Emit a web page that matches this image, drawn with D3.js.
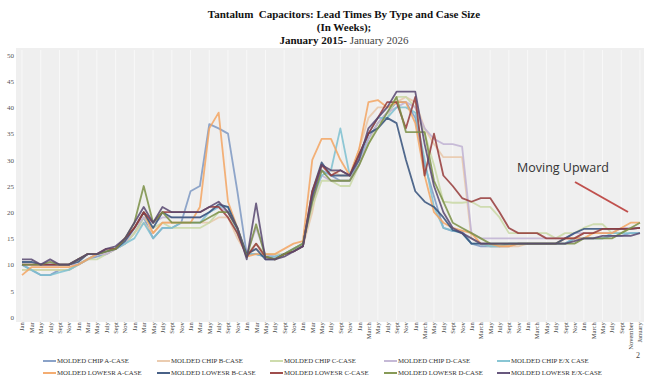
<!DOCTYPE html>
<html>
<head>
<meta charset="utf-8">
<script src="https://cdn.jsdelivr.net/npm/d3@7"></script>
<style>
  body { margin: 0; background: #fff; }
  svg { display: block; }
</style>
</head>
<body>
<svg id="chart" width="650" height="384"></svg>
<script>
// tick labels, two-monthly from Jan 2015 to Jan 2026
const xLabels = [
  'Jan','Mar','May','July','Sept','Nov',
  'Jan','Mar','May','July','Sept','Nov',
  'Jan','Mar','May','July','Sept','Nov',
  'Jan','Mar','May','July','Sept','Nov',
  'Jan','Mar','May','July','Sept','Nov',
  'Jan','Mar','May','July','Sept','Nov',
  'Jan','March','May','July','Sept','Nov',
  'Jan','March','May','July','Sept','Nov',
  'Jan','March','May','July','Sept','Nov',
  'Jan','March','May','July','Sept','Nov',
  'Jan','March','May','July','Sept','November',
  'January'
];
const yTicks = [0,5,10,15,20,25,30,35,40,45,50];

const seriesNames = [
  'MOLDED CHIP A-CASE','MOLDED CHIP B-CASE','MOLDED CHIP C-CASE','MOLDED CHIP D-CASE','MOLDED CHIP E/X CASE',
  'MOLDED LOWESR A-CASE','MOLDED LOWESR B-CASE','MOLDED LOWESR C-CASE','MOLDED LOWESR D-CASE','MOLDED LOWESR E/X-CASE'
];
const seriesColors = [
  '#7d98c2','#e9c7a8','#c9d8a4','#bfb2d2','#7cc0d0',
  '#f3a462','#34507a','#953a38','#7a8f45','#574670'
];

// lead times in weeks, one value every two months
const chipA = [10,9,8,8,9,9,10,11,11.5,12,13,14,
  16,19,15,17,17,18,24,25,36.8,36,35,24,
  12,12,11.5,11.5,12,13,13.5,22,28,27,26,26,30,34,37,39,41,41,38,29,23,17,16.4,16.4,
  14,13.5,13.5,13.5,13.5,14,14,14,14,14,14,15,15,15,15,15.5,15.5,16,16];
const chipB = [9,9,9,9,9,9,10,11,12,12,13,14,
  16,18,16,18,18,18,18,18,18,19,19,15,
  12,13,12,11.5,12,12.5,13.5,20,29,28,27,27,32,38,40,40,41,42,41,36,33,30.5,30.5,30.5,
  15,14,13.5,13.5,13.5,13.5,14,14,14,14,15,15,16,16,16,16,16,17,17];
const chipC = [9,9,9,9,9,9,10,11,11,12,13,14,
  16,19,17,18,17,17,17,17,18,20,20,16,
  12,14,12,12,12,13,14,21,26,26,25,25,29,33,37,38,42,42,40,35,29,22,21.8,21.8,
  22,21,21,19,16,16,16,16,16,15,16,16,17,17.7,17.7,16,16,17,17];
const chipD = [10,10,10,10,10,10,10,11,12,12,13,14,
  17,19,18,19,19,19,19,19,20,21,20,17,
  12,17,12,11.5,12,13,14,22,27,26,26,26,29,34,37,39,40,41,40,36,34,33,33,32.5,
  16,15,15,15,15,15,15,15,15,15,15,16,16,16,16,16,17,17,17];
const chipEX = [10,9,8,8,8.5,9,10,11,12,12.5,13,14,
  15,18,15,17,17,18,18,18,20,21,21,16,
  12,12,11.5,11.5,12,13,14,23,27,28,36,27,30,35,38,38,40,40,39,30,21,17,16.5,16,
  14,14,13.5,13.5,14,14,14,14,14,14,14,15,15,15,15,16,16,16,16];
const lowA = [8,9.5,9.5,9.5,9.5,9.5,10,11,12,12.5,13,15,
  17,20,16,18,18,18,18,21,36,39,22,17,
  11.5,12,12,12,13,14,14.5,30,34,34,30,27,32,41,41.4,40,41,41,37,27,20,18,17,16.5,
  16,14,14,13.5,13.5,14,14,14,14,14,15,15,15,16,16,16,17,18,18];
const lowB = [10.5,10.5,10,10,10,10,10.5,12,12,12.5,13,14.5,
  17,20,17,20,19,19,19,19,20,21.5,21,17,
  12,13,11,11,12,12.5,13.5,24,29.5,27,27,27,31,35,36,38,37,30,24,22,21,19,16.6,16,
  14,14,14,14,14,14,14,14,14,14,15,16,16.8,16.8,16.8,16.8,16.8,16.8,17];
const lowC = [10,10,10,10,10,10,11,12,12,13,13,15,
  17,20,18,20,20,20,20,20,21,21,19,16,
  11.5,14,11.5,11,12,12.5,13.5,24,29,27,28,27,31,35,38,41,41,36,42,27,35,27,25,22.7,
  22,22.7,22.7,20,17,16,16,16,15,15,15,15,16,16,16.8,16.8,16.8,16.8,17];
const lowD = [10,10,10,10.5,10,10,11,12,12,12.5,13,15,
  18,25,18,20,18,18,18,18,19,20,20,17,
  11.5,17.7,11.5,11,12,13,14,22,28,26,26,26,29,33,36,39,42,35.3,35.3,35.3,26,22,18,17,
  16,15,14,14,14,14,14,14,14,14,14,14,15,15,15,15,16,17,18];
const lowEX = [11,11,10,11,10,10,11,12,12,13,13.5,15,
  18,21,18,21,20,20,20,20,21,22,20,17,
  11,21.7,11,11,11.5,12.5,13.5,23,29,28,28,27,30,36,38,40,43,43,43,33,25,20,17,16,
  15,14,14,14,14,14,14,14,14,14,14,14.5,15,15,15.5,15.5,15.5,15.5,16];

const seriesValues = [chipA, chipB, chipC, chipD, chipEX, lowA, lowB, lowC, lowD, lowEX];

const svg = d3.select('#chart');

const x = d3.scaleLinear().domain([0, xLabels.length - 1]).range([22, 640]);
const y = d3.scaleLinear().domain([0, 50]).range([317, 55]);

// plot background
svg.append('rect')
  .attr('x', 16).attr('y', 48).attr('width', 628).attr('height', 274)
  .attr('fill', '#efefef');

// faint vertical grid
svg.append('g').selectAll('line')
  .data(d3.range(0, xLabels.length, 2))
  .join('line')
  .attr('x1', d => x(d)).attr('x2', d => x(d))
  .attr('y1', 50).attr('y2', 320)
  .attr('stroke', '#f8f8f8').attr('stroke-width', 1);

// title
const title = svg.append('g')
  .attr('font-family', '"Liberation Serif", "Times New Roman", serif')
  .attr('font-size', 11).attr('font-weight', 'bold')
  .attr('text-anchor', 'middle').attr('fill', '#111');
title.append('text').attr('x', 344).attr('y', 18).attr('xml:space', 'preserve')
  .text('Tantalum  Capacitors: Lead Times By Type and Case Size');
title.append('text').attr('x', 344).attr('y', 31).text('(In Weeks);');
const t3 = title.append('text').attr('x', 344).attr('y', 44);
t3.append('tspan').text('January 2015- ');
t3.append('tspan').attr('font-weight', 'normal').attr('fill', '#444').text('January 2026');

// y axis
const yAxis = svg.append('g')
  .attr('transform', 'translate(14,0)')
  .call(d3.axisLeft(y).tickValues(yTicks).tickSize(0).tickPadding(0));
yAxis.select('.domain').remove();
yAxis.selectAll('text')
  .attr('font-family', '"Liberation Serif", serif')
  .attr('font-size', 7).attr('fill', '#555');

// x axis
const xAxis = svg.append('g')
  .attr('transform', 'translate(0,321)')
  .call(d3.axisBottom(x).tickValues(d3.range(xLabels.length))
    .tickFormat(i => xLabels[i]).tickSize(0).tickPadding(0));
xAxis.select('.domain').remove();
xAxis.selectAll('text')
  .attr('font-family', '"Liberation Serif", serif')
  .attr('font-size', 6.5).attr('fill', '#444')
  .attr('text-anchor', 'end')
  .attr('transform', 'rotate(-90)')
  .attr('dx', '-0.2em').attr('dy', '0.3em')
  .attr('x', 0).attr('y', 0);

// lines
const line = d3.line()
  .x((d, i) => x(i))
  .y(d => y(d));

svg.append('g').selectAll('path')
  .data(seriesValues)
  .join('path')
  .attr('d', line)
  .attr('fill', 'none')
  .attr('stroke', (d, i) => seriesColors[i])
  .attr('stroke-width', 1.8)
  .attr('stroke-opacity', 0.85)
  .attr('stroke-linejoin', 'round');

// annotation
svg.append('text')
  .attr('x', 517).attr('y', 172)
  .attr('font-family', '"Open Sans", "Liberation Sans", sans-serif')
  .attr('font-size', 12.5).attr('fill', '#333')
  .text('Moving Upward');
svg.append('line')
  .attr('x1', 575).attr('y1', 182).attr('x2', 628).attr('y2', 212)
  .attr('stroke', '#c0504d').attr('stroke-width', 2);

// page mark
svg.append('text')
  .attr('x', 636).attr('y', 358)
  .attr('font-family', '"Liberation Serif", serif')
  .attr('font-size', 8).attr('fill', '#444')
  .text('2');

// legend
const colX = [43, 157, 270, 384, 497];
const rowY = [361, 373];
const legend = svg.append('g')
  .selectAll('g')
  .data(seriesNames)
  .join('g')
  .attr('transform', (d, i) => `translate(${colX[i % 5]},${rowY[Math.floor(i / 5)]})`);
legend.append('line')
  .attr('x1', 0).attr('x2', 13).attr('y1', 0).attr('y2', 0)
  .attr('stroke', (d, i) => seriesColors[i]).attr('stroke-width', 1.8);
legend.append('text')
  .attr('x', 14).attr('y', 0).attr('dy', '0.33em')
  .attr('font-family', '"Liberation Serif", serif')
  .attr('font-size', 6.8).attr('fill', '#333')
  .text(d => d);
</script>
</body>
</html>
